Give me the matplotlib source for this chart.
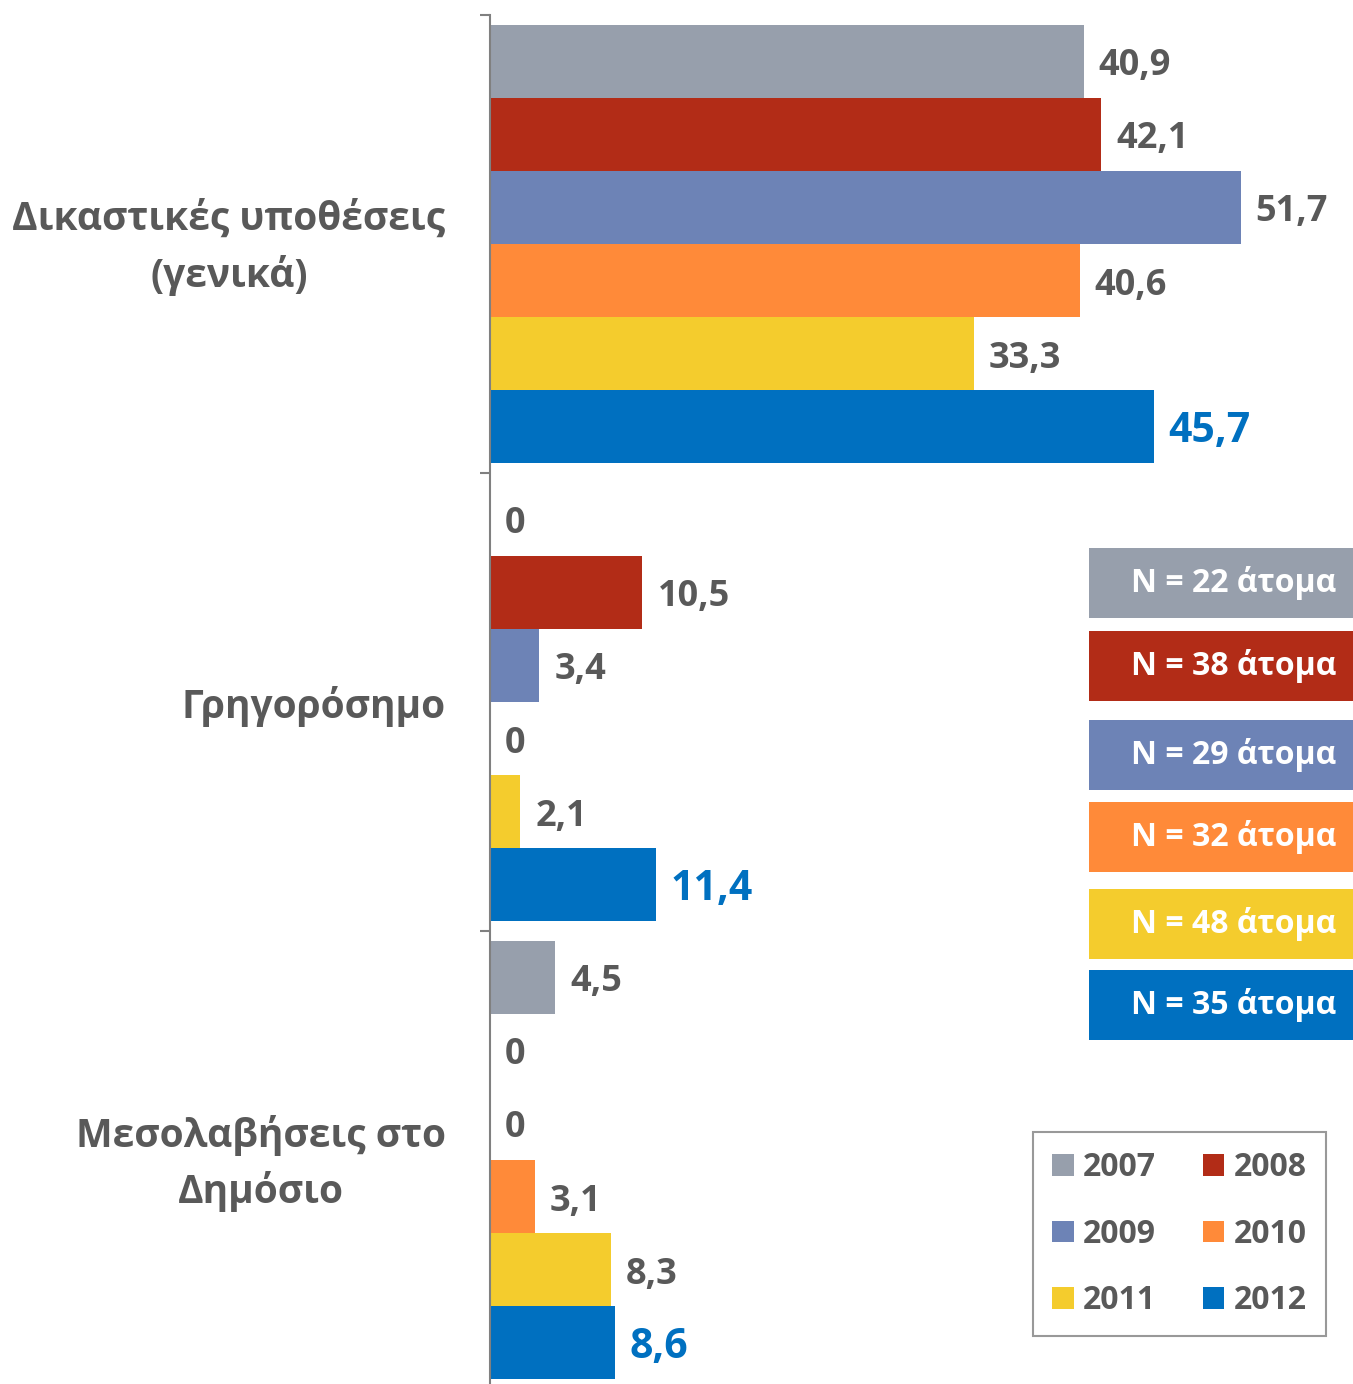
import numpy as np
import matplotlib
matplotlib.use('Agg')
import matplotlib.pyplot as plt
import matplotlib.transforms as mtransforms
from matplotlib.patches import Patch, Rectangle

plt.rcParams['font.family'] = ['Open Sans', 'DejaVu Sans']
plt.rcParams['font.weight'] = 'bold'

# data
categories = ['Δικαστικές υποθέσεις\n(γενικά)', 'Γρηγορόσημο', 'Μεσολαβήσεις στο\nΔημόσιο']
years = ['2007', '2008', '2009', '2010', '2011', '2012']
values = {
    '2007': [40.9, 0, 4.5],
    '2008': [42.1, 10.5, 0],
    '2009': [51.7, 3.4, 0],
    '2010': [40.6, 0, 3.1],
    '2011': [33.3, 2.1, 8.3],
    '2012': [45.7, 11.4, 8.6],
}
n_people = [22, 38, 29, 32, 48, 35]
colors = ['#979FAC', '#B22C17', '#6D83B6', '#FF8A39', '#F4CC2D', '#0070C0']

text_gray = '#595959'

W, H = 1353, 1384
fig = plt.figure(figsize=(W / 100, H / 100), dpi=100)
ax = fig.add_axes([490 / W, (H - 1389) / H, (W - 490) / W, 1374 / H])

bar_h = 0.1594
pad = (1 - 6 * bar_h) / 2
x_per_px = 1 / 14.52
y_per_px = 1 / 458

for j, yr in enumerate(years):
    ys = np.arange(len(categories)) + pad + (j + 0.5) * bar_h
    vals = values[yr]
    ax.barh(ys, vals, height=bar_h, color=colors[j], edgecolor='none')
    for y, v in zip(ys, vals):
        lab = '0' if v == 0 else f'{v:.1f}'.replace('.', ',')
        if yr == '2012':
            ax.text(v + 15 * x_per_px, y + 5 * y_per_px, lab, color='#0070C0',
                    fontsize=29.5, fontweight='bold', va='center', ha='left')
        else:
            ax.text(v + 15 * x_per_px, y + 5 * y_per_px, lab, color=text_gray,
                    fontsize=26, fontweight='bold', va='center', ha='left')

ax.set_xlim(0, (W - 490) * x_per_px)
ax.set_ylim(3, 0)
ax.set_xticks([])
ax.set_yticks(np.arange(len(categories)) + 0.5)
ax.set_yticklabels(categories, fontsize=28, color=text_gray, fontweight='bold',
                   multialignment='center', linespacing=1.5)
ax.tick_params(axis='y', which='major', length=0, pad=32)
# two-line labels sit a little low, nudge them up
for lbl in ax.get_yticklabels():
    if '\n' in lbl.get_text():
        lbl.set_transform(lbl.get_transform() +
                          mtransforms.ScaledTranslation(0, 9 / 100, fig.dpi_scale_trans))
ax.set_yticks(np.arange(len(categories) + 1), minor=True)
ax.tick_params(axis='y', which='minor', length=7, width=1.5, color='#808080')
for s in ['top', 'right', 'bottom']:
    ax.spines[s].set_visible(False)
ax.spines['left'].set_color('#808080')
ax.spines['left'].set_linewidth(1.5)

# N boxes
box_tops = [548, 631, 720, 802, 889, 970]
for top, n, c in zip(box_tops, n_people, colors):
    fig.patches.append(Rectangle((1089 / W, (H - top - 70) / H), (W - 1089) / W, 70 / H,
                                 transform=fig.transFigure, facecolor=c, edgecolor='none'))
    fig.text(1234 / W, (H - top - 35) / H, f'N = {n} άτομα', color='white',
             fontsize=23, fontweight='bold', ha='center', va='center')

# legend, filled row by row
handles = [Patch(facecolor=c, edgecolor='none', label=y) for y, c in zip(years, colors)]
order = [0, 2, 4, 1, 3, 5]
leg = fig.legend(handles=[handles[i] for i in order], ncol=2, loc='upper right',
                 bbox_to_anchor=(1326 / W, (H - 1132) / H), bbox_transform=fig.transFigure,
                 fontsize=23, frameon=True, fancybox=False, edgecolor='#808080',
                 handlelength=0.68, handleheight=0.68, handletextpad=0.3,
                 labelspacing=1.05, columnspacing=1.45, borderpad=0.6, borderaxespad=0)
leg.get_frame().set_linewidth(1.5)
for t in leg.get_texts():
    t.set_color(text_gray)
    t.set_fontweight('bold')

fig.savefig('out.png', dpi=100)
